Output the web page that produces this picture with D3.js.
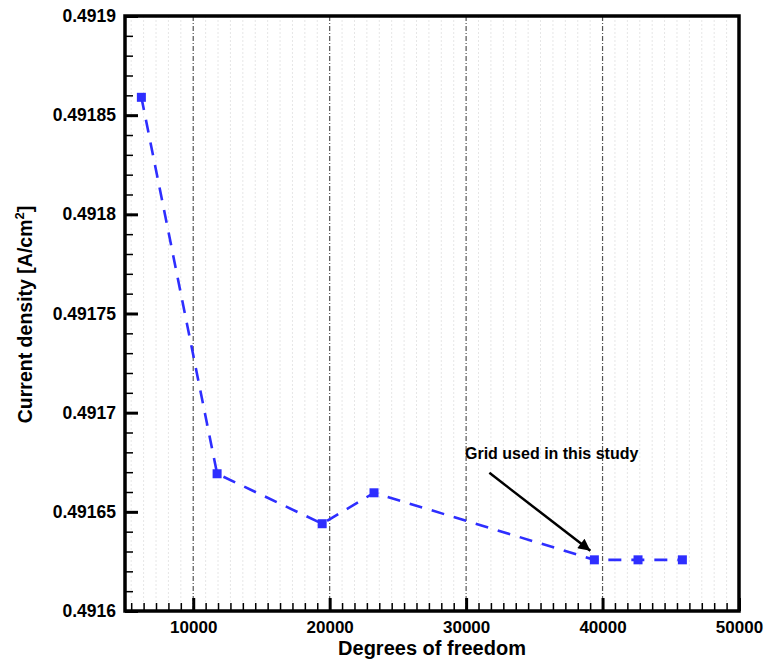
<!DOCTYPE html>
<html><head><meta charset="utf-8">
<script src="https://cdn.jsdelivr.net/npm/d3@7"></script>
<style>body{margin:0;background:#fff}svg{display:block}</style>
</head><body>
<svg id="c" width="765" height="662"></svg>
<script>
const dof = [6200, 11750, 19450, 23250, 39400, 42600, 45850];
const currentDensity = [0.491859, 0.4916692, 0.4916440, 0.4916596, 0.4916258, 0.4916258, 0.4916258];
const yTickLabels = ["0.4916","0.49165","0.4917","0.49175","0.4918","0.49185","0.4919"];
const xTickValues = [10000, 20000, 30000, 40000, 50000];
const annotationText = "Grid used in this study";

const svg = d3.select("#c");
const L = 125, R = 739, T = 16, B = 611;
const x = d3.scaleLinear().domain([5000, 50000]).range([L, R]);
const y = d3.scaleLinear().domain([0.4916, 0.4919]).range([B, T]);
const font = "'Liberation Sans', Arial, sans-serif";

// minor x ticks (10 between majors)
const xMinor = [];
const step = 10000 / 11;
for (let m = 0; m <= 50000; m += 10000) {
  for (let k = 1; k <= 10; k++) {
    const v = m + k * step;
    if (v > 5000 && v < 50000) xMinor.push(v);
  }
}
// faint minor grid
svg.append("g").selectAll("line").data(xMinor).join("line")
  .attr("x1", d => x(d)).attr("x2", d => x(d)).attr("y1", T).attr("y2", B)
  .attr("stroke", "#e6e6e6").attr("stroke-width", 1).attr("stroke-dasharray", "2,2");
// major grid dash-dot
svg.append("g").selectAll("line").data(xTickValues.filter(d => d < 50000)).join("line")
  .attr("x1", d => x(d)).attr("x2", d => x(d)).attr("y1", T).attr("y2", B)
  .attr("stroke", "#555").attr("stroke-width", 1.2).attr("stroke-dasharray", "5,2,1,2");

// y ticks
const yMajor = yTickLabels.map(Number);
const yMinor = d3.range(0, 31).map(i => 0.4916 + i * 0.00001).filter(v => !yMajor.some(m => Math.abs(m - v) < 1e-9));
const yAxisMinor = d3.axisLeft(y).tickValues(yMinor).tickSize(-8).tickFormat("");
svg.append("g").attr("transform", `translate(${L},0)`).call(yAxisMinor)
  .call(g => g.select(".domain").remove())
  .call(g => g.selectAll("line").attr("stroke", "#000").attr("stroke-width", 1.5));
const yAxis = d3.axisLeft(y).tickValues(yMajor).tickSize(-13).tickPadding(9)
  .tickFormat((d, i) => yTickLabels[i]);
svg.append("g").attr("transform", `translate(${L},0)`).call(yAxis)
  .call(g => g.select(".domain").remove())
  .call(g => g.selectAll("line").attr("stroke", "#000").attr("stroke-width", 3))
  .call(g => g.selectAll("text").attr("font-family", font).attr("font-weight", "bold")
    .attr("font-size", "17.5px").attr("fill", "#000"));

// x ticks
const xAxisMinor = d3.axisBottom(x).tickValues(xMinor).tickSize(-8).tickFormat("");
svg.append("g").attr("transform", `translate(0,${B})`).call(xAxisMinor)
  .call(g => g.select(".domain").remove())
  .call(g => g.selectAll("line").attr("stroke", "#000").attr("stroke-width", 1.5));
const xAxis = d3.axisBottom(x).tickValues(xTickValues).tickSize(-13).tickPadding(7)
  .tickFormat(d3.format("d"));
svg.append("g").attr("transform", `translate(0,${B})`).call(xAxis)
  .call(g => g.select(".domain").remove())
  .call(g => g.selectAll("line").attr("stroke", "#000").attr("stroke-width", 3))
  .call(g => g.selectAll("text").attr("font-family", font).attr("font-weight", "bold")
    .attr("font-size", "17px").attr("fill", "#000").attr("dy", "0.9em"));

// frame
svg.append("rect").attr("x", L).attr("y", T).attr("width", R - L).attr("height", B - T)
  .attr("fill", "none").attr("stroke", "#000").attr("stroke-width", 3.5);

// data line
const pts = dof.map((d, i) => [d, currentDensity[i]]);
svg.append("path").datum(pts)
  .attr("d", d3.line().x(d => x(d[0])).y(d => y(d[1])))
  .attr("fill", "none").attr("stroke", "#2e2eff").attr("stroke-width", 2.6)
  .attr("stroke-dasharray", "13,10");
svg.append("g").selectAll("rect").data(pts).join("rect")
  .attr("x", d => x(d[0]) - 4.5).attr("y", d => y(d[1]) - 4.5)
  .attr("width", 9).attr("height", 9).attr("fill", "#2e2eff");

// annotation
svg.append("defs").append("marker").attr("id", "ah").attr("viewBox", "0 0 10 10")
  .attr("refX", 10).attr("refY", 5)
  .attr("markerUnits", "userSpaceOnUse").attr("orient", "auto")
  .attr("markerWidth", 20).attr("markerHeight", 12)
  .append("path").attr("d", "M0,0 L10,5 L0,10 Z").attr("fill", "#000");
const ax0 = x(dof[4]) - 105, ay0 = y(currentDensity[4]) - 87;
svg.append("line").attr("x1", ax0).attr("y1", ay0)
  .attr("x2", x(dof[4]) - 4).attr("y2", y(currentDensity[4]) - 9)
  .attr("stroke", "#000").attr("stroke-width", 2.5).attr("marker-end", "url(#ah)");
svg.append("text").attr("x", 465).attr("y", 459).text(annotationText)
  .attr("font-family", font).attr("font-weight", "bold").attr("font-size", "16px");

// axis titles
svg.append("text").attr("x", (L + R) / 2).attr("y", 655).attr("text-anchor", "middle")
  .attr("font-family", font).attr("font-weight", "bold").attr("font-size", "20px")
  .text("Degrees of freedom");
const yt = svg.append("text").attr("transform", `translate(32,${(T + B) / 2 + 1}) rotate(-90)`)
  .attr("text-anchor", "middle").attr("font-family", font).attr("font-weight", "bold")
  .attr("font-size", "19.5px");
yt.append("tspan").text("Current density [A/cm");
yt.append("tspan").attr("dy", "-8").attr("font-size", "13px").text("2");
yt.append("tspan").attr("dy", "8").text("]");
</script>
</body></html>
